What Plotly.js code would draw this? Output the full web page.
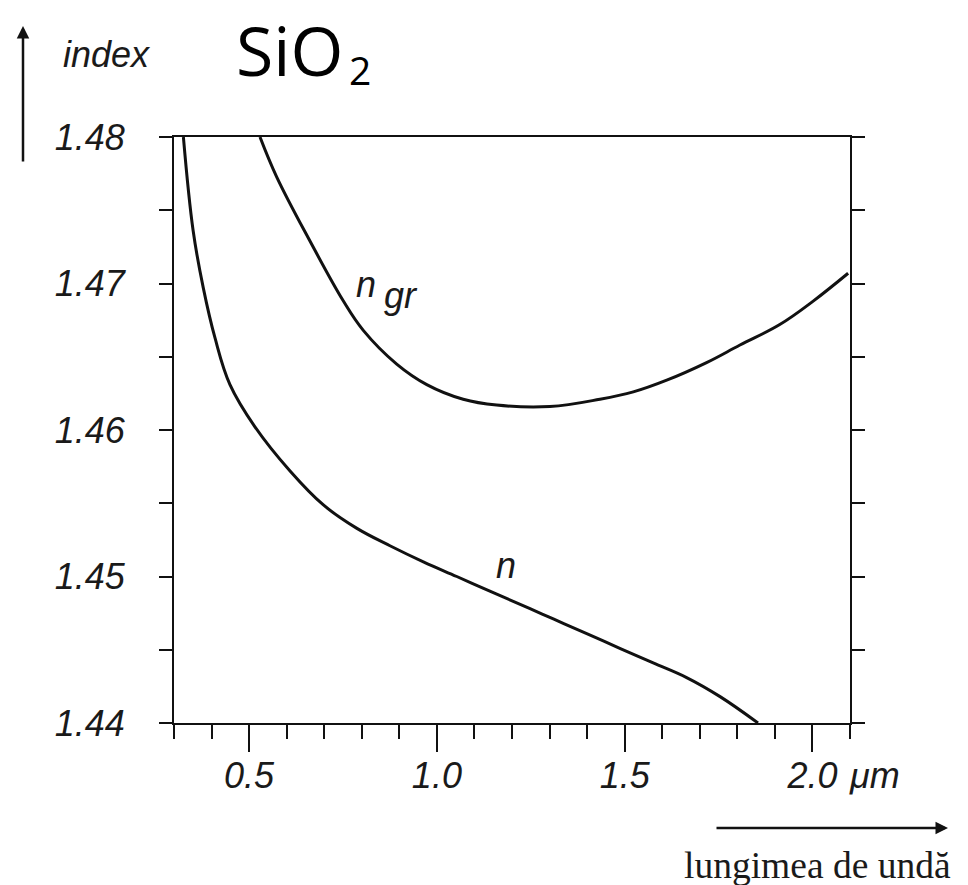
<!DOCTYPE html>
<html>
<head>
<meta charset="utf-8">
<script src="https://cdn.plot.ly/plotly-3.0.1.min.js"></script>
<style>html,body{margin:0;padding:0;background:#fff;}#chart{width:968px;height:885px;}</style>
</head>
<body>
<div id="chart"></div>
<script>
// wavelength (µm) and refractive index of SiO2
const nWavelength = [0.325, 0.351, 0.378, 0.409, 0.449, 0.516, 0.609, 0.697, 0.786, 0.875, 0.964, 1.053, 1.141, 1.248, 1.310, 1.399, 1.487, 1.576, 1.665, 1.754, 1.855];
const nIndex      = [1.4800, 1.4736, 1.4697, 1.4663, 1.4631, 1.4602, 1.4572, 1.4549, 1.4533, 1.4521, 1.4510, 1.4500, 1.4490, 1.4478, 1.4471, 1.4461, 1.4451, 1.4441, 1.4431, 1.4418, 1.4400];
// group index
const ngrWavelength = [0.529, 0.573, 0.662, 0.751, 0.804, 0.893, 0.973, 1.070, 1.159, 1.301, 1.434, 1.523, 1.612, 1.718, 1.807, 1.913, 2.002, 2.095];
const ngrIndex      = [1.4800, 1.4773, 1.4729, 1.4688, 1.4668, 1.4645, 1.4631, 1.4621, 1.4617, 1.4616, 1.4621, 1.4626, 1.4634, 1.4646, 1.4658, 1.4672, 1.4688, 1.4707];

const xTickVals = [0.5, 1.0, 1.5, 2.0];
const xTickText = ['0.5', '1.0', '1.5', '2.0'];
const xMinorVals = [0.3, 0.4, 0.6, 0.7, 0.8, 0.9, 1.1, 1.2, 1.3, 1.4, 1.6, 1.7, 1.8, 1.9, 2.1];
const yTickVals = [1.44, 1.45, 1.46, 1.47, 1.48];
const yTickText = ['1.44', '1.45', '1.46', '1.47', '1.48'];

const W = 968, H = 885;
const M = {l: 174, r: 118, t: 137, b: 162};
const pw = W - M.l - M.r, ph = H - M.t - M.b;
const px = v => (v - M.l) / pw;
const py = v => (H - M.b - v) / ph;

const lettering = {family: 'Liberation Sans, Arial, sans-serif', size: 36, color: '#1a1a1a', style: 'italic'};

const traces = [
  {x: nWavelength, y: nIndex, mode: 'lines', line: {color: '#111', width: 3, shape: 'spline', smoothing: 1.1}, hoverinfo: 'skip'},
  {x: ngrWavelength, y: ngrIndex, mode: 'lines', line: {color: '#111', width: 3, shape: 'spline', smoothing: 1.1}, hoverinfo: 'skip'}
];

const layout = {
  width: W, height: H,
  margin: M,
  paper_bgcolor: '#fff', plot_bgcolor: '#fff',
  showlegend: false,
  xaxis: {
    range: [0.3, 2.1], showgrid: false, zeroline: false,
    showline: true, linecolor: '#111', linewidth: 2, mirror: true,
    ticks: 'outside', ticklen: 27, tickwidth: 2, tickcolor: '#111',
    tickmode: 'array', tickvals: xTickVals, ticktext: xTickText, tickfont: lettering, ticklabelstandoff: -7,
    minor: {tickmode: 'array', tickvals: xMinorVals, ticks: 'outside', ticklen: 14, tickwidth: 2, tickcolor: '#111', showgrid: false}
  },
  yaxis: {
    range: [1.44, 1.48], showgrid: false, zeroline: false,
    showline: true, linecolor: '#111', linewidth: 2, mirror: 'ticks',
    ticks: 'outside', ticklen: 13, tickwidth: 2, tickcolor: '#111',
    tickvals: yTickVals, ticktext: yTickText, tickfont: lettering, ticklabelstandoff: 27,
    minor: {dtick: 0.005, tick0: 1.44, ticks: 'outside', ticklen: 13, tickwidth: 2, tickcolor: '#111', showgrid: false}
  },
  annotations: [
    {xref: 'paper', yref: 'paper', x: px(289), y: py(50), text: 'SiO', showarrow: false,
     font: {family: 'Open Sans, Noto Sans, sans-serif', size: 68, color: '#000'}, xanchor: 'center', yanchor: 'middle'},
    {xref: 'paper', yref: 'paper', x: px(360), y: py(69), text: '2', showarrow: false,
     font: {family: 'Open Sans, Noto Sans, sans-serif', size: 39, color: '#000'}, xanchor: 'center', yanchor: 'middle'},
    {xref: 'paper', yref: 'paper', x: px(107), y: py(54), text: 'index', showarrow: false,
     font: {family: 'Liberation Sans, Arial, sans-serif', size: 36, color: '#1a1a1a', style: 'italic'}, xanchor: 'center', yanchor: 'middle'},
    {xref: 'paper', yref: 'paper', x: px(23), y: py(26), text: '', showarrow: true,
     ax: 0, ay: 137, arrowhead: 2, arrowsize: 1, arrowwidth: 2.5, arrowcolor: '#111'},
    {xref: 'paper', yref: 'paper', x: px(948), y: py(828), text: '', showarrow: true,
     ax: -233, ay: 0, arrowhead: 2, arrowsize: 1, arrowwidth: 2.5, arrowcolor: '#111'},
    {xref: 'paper', yref: 'paper', x: px(817), y: py(865), text: 'lungimea de undă', showarrow: false,
     font: {family: 'Liberation Serif, DejaVu Serif, serif', size: 37.5, color: '#1a1a1a'}, xanchor: 'center', yanchor: 'middle'},
    {xref: 'paper', yref: 'paper', x: px(847), y: py(776), text: 'μm', showarrow: false,
     font: lettering, xanchor: 'left', yanchor: 'middle'},
    {xref: 'paper', yref: 'paper', x: px(366), y: py(284), text: 'n', showarrow: false,
     font: lettering, xanchor: 'center', yanchor: 'middle'},
    {xref: 'paper', yref: 'paper', x: px(401), y: py(295), text: 'gr', showarrow: false,
     font: lettering, xanchor: 'center', yanchor: 'middle'},
    {xref: 'paper', yref: 'paper', x: px(506), y: py(565), text: 'n', showarrow: false,
     font: lettering, xanchor: 'center', yanchor: 'middle'}
  ]
};

Plotly.newPlot('chart', traces, layout, {staticPlot: true, displayModeBar: false});
</script>
</body>
</html>
